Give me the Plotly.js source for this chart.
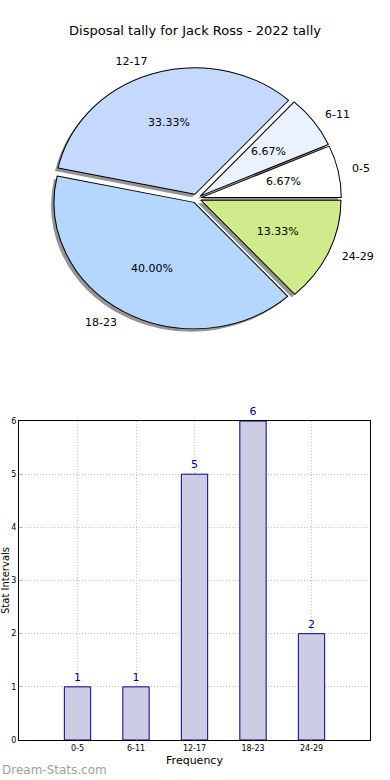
<!DOCTYPE html>
<html><head><meta charset="utf-8">
<script src="https://cdn.plot.ly/plotly-3.0.1.min.js"></script>
<style>html,body{margin:0;padding:0;background:#fff}#chart{width:390px;height:780px}</style>
</head><body><div id="chart"></div>
<script>
// ---- data ----
const categories = ['0-5', '6-11', '12-17', '18-23', '24-29'];
const counts = [1, 1, 5, 6, 2];
const sliceColors = ['#ffffff', '#eaf2ff', '#c5d9ff', '#b5d6ff', '#d0eb8b'];
const yTickVals = [0, 1, 2, 3, 4, 5, 6];
const chartTitle = 'Disposal tally for Jack Ross - 2022 tally';
const xTitle = 'Frequency';
const yTitle = 'Stat Intervals';
const watermark = 'Dream-Stats.com';

// ---- layout helpers (pixel -> paper) ----
const W = 390, H = 780;
const px = x => x / W;
const py = y => 1 - y / H;
const FONT = 'DejaVu Sans, sans-serif';

const total = counts.reduce((a, b) => a + b, 0);
// first slice starts at 3 o'clock and runs counterclockwise
const rot = 90 - 360 * counts[0] / total;

const pieCx = 196.5, pieCy = 198.5, pieHalf = 140, pull = 0.035;
const shadowDx = -3, shadowDy = 3;
const stretchX = 1.035, stretchY = 0.935;   // the reference pie is slightly elliptical
const pctDist = 0.6, labelDist = 1.1;
function pieDomain(dx, dy, s) {
  const h = pieHalf * (s || 1);
  return {x: [px(pieCx - h + dx), px(pieCx + h + dx)],
          y: [py(pieCy + h + dy), py(pieCy - h + dy)]};
}
const pulls = categories.map(() => pull);

const shadow = {
  type: 'pie', values: counts, labels: categories, sort: false,
  direction: 'counterclockwise', rotation: rot, pull: pulls,
  domain: pieDomain(shadowDx, shadowDy),
  marker: {colors: categories.map(() => 'rgba(60,60,60,0.55)'), line: {width: 0}},
  textinfo: 'none', hoverinfo: 'skip', showlegend: false
};
const pie = {
  type: 'pie', values: counts, labels: categories, sort: false,
  direction: 'counterclockwise', rotation: rot, pull: pulls,
  domain: pieDomain(0, 0),
  marker: {colors: sliceColors, line: {color: '#000000', width: 1}},
  texttemplate: '%{percent:.2%}', textposition: 'inside',
  insidetextorientation: 'horizontal',
  textfont: {family: FONT, size: 11, color: '#000000'},
  hoverinfo: 'skip', showlegend: false
};
const pieLabels = {
  type: 'pie', values: counts, labels: categories, sort: false,
  direction: 'counterclockwise', rotation: rot, pull: pulls,
  domain: pieDomain(0, 0),
  marker: {colors: categories.map(() => 'rgba(0,0,0,0)'), line: {width: 0}},
  textinfo: 'label', textposition: 'outside',
  outsidetextfont: {family: FONT, size: 11, color: '#000000'},
  hoverinfo: 'skip', showlegend: false, automargin: false
};

const idx = categories.map((c, i) => i);
const bars = {
  type: 'bar', x: idx, y: counts, width: 0.45,
  xaxis: 'x', yaxis: 'y',
  marker: {color: '#cccce4', line: {color: '#000080', width: 1}},
  text: counts.map(String), textposition: 'outside', cliponaxis: false,
  textfont: {family: FONT, size: 11, color: '#000080'},
  hoverinfo: 'skip', showlegend: false
};

const xTickVals = [-1].concat(idx, [categories.length]);
const xTickText = [''].concat(categories, ['']);

const layout = {
  width: W, height: H,
  margin: {l: 0, r: 0, t: 0, b: 0},
  paper_bgcolor: '#ffffff', plot_bgcolor: '#ffffff',
  font: {family: FONT, color: '#000000'},
  title: {text: chartTitle, x: 0.5, xanchor: 'center', y: py(30), yanchor: 'middle',
          font: {family: FONT, size: 13, color: '#000000'}},
  xaxis: {
    domain: [px(19), px(370)], anchor: 'y',
    range: [-1, categories.length], tickvals: xTickVals, ticktext: xTickText,
    showgrid: true, gridcolor: '#c4c4c4', griddash: '1px,2px', gridwidth: 1,
    showline: true, linecolor: '#000000', linewidth: 1, mirror: true,
    ticks: 'inside', ticklen: 3, tickcolor: '#b8b8b8',
    zeroline: false, tickfont: {family: FONT, size: 8, color: '#000000'},
    title: {text: xTitle, font: {family: FONT, size: 11, color: '#000000'}, standoff: 4}
  },
  yaxis: {
    domain: [py(740), py(421)], anchor: 'x',
    range: [0, 6], tickvals: yTickVals,
    showgrid: true, gridcolor: '#c4c4c4', griddash: '1px,2px', gridwidth: 1,
    showline: true, linecolor: '#000000', linewidth: 1, mirror: true,
    ticks: 'inside', ticklen: 3, tickcolor: '#b8b8b8',
    zeroline: false, tickfont: {family: FONT, size: 8, color: '#000000'},
    title: {text: yTitle, font: {family: FONT, size: 10, color: '#000000'}, standoff: 2}
  },
  annotations: [{
    text: watermark, xref: 'paper', yref: 'paper', x: 0, y: py(770),
    xanchor: 'left', yanchor: 'middle', showarrow: false,
    font: {family: FONT, size: 12, color: '#a0a0a0'}
  }]
};

function stretchPies(gd) {
  try {
    const R0 = pieHalf / (1 + pull);
    const Rx = R0 * stretchX, Ry = R0 * stretchY;
    const mids = [];
    let cum = 0;
    counts.forEach(v => { mids.push(2 * Math.PI * (cum + v / 2) / total); cum += v; });
    const traces = gd.querySelectorAll('.pielayer .trace');
    const centers = [[pieCx + shadowDx, pieCy + shadowDy], [pieCx, pieCy], [pieCx, pieCy]];
    const root = gd.querySelector('svg.main-svg').getBoundingClientRect();
    traces.forEach((t, ti) => {
      const c = centers[ti] || [pieCx, pieCy];
      t.querySelectorAll('path.surface').forEach(p => {
        p.setAttribute('transform',
          `translate(${c[0]},${c[1]}) scale(${stretchX},${stretchY}) translate(${-c[0]},${-c[1]})`);
      });
      if (ti === 0) return;
      t.querySelectorAll('g.slice').forEach((s, si) => {
        const tx = s.querySelector('text');
        if (!tx || si >= mids.length) return;
        const b = tx.getBoundingClientRect();
        if (!b.width) return;
        const a = mids[si], ca = Math.cos(a), sa = Math.sin(a);
        const ox = c[0] + pull * Rx * ca, oy = c[1] - pull * Ry * sa;
        let curX, tgtX;
        const my = b.top - root.top + b.height / 2;
        let tgtY;
        if (ti === 1) {
          curX = b.left - root.left + b.width / 2;
          tgtX = ox + pctDist * Rx * ca;
          tgtY = oy - pctDist * Ry * sa;
        } else {
          tgtX = ox + labelDist * Rx * ca;
          tgtY = oy - labelDist * Ry * sa;
          curX = ca >= 0 ? b.left - root.left : b.right - root.left;
        }
        const old = tx.getAttribute('transform') || '';
        tx.setAttribute('transform', `translate(${tgtX - curX},${tgtY - my}) ${old}`);
      });
    });
  } catch (e) { /* leave the circular pie as drawn */ }
}

Plotly.newPlot('chart', [shadow, pie, pieLabels, bars], layout, {staticPlot: true, displayModeBar: false})
  .then(gd => stretchPies(gd));
</script>
</body></html>
